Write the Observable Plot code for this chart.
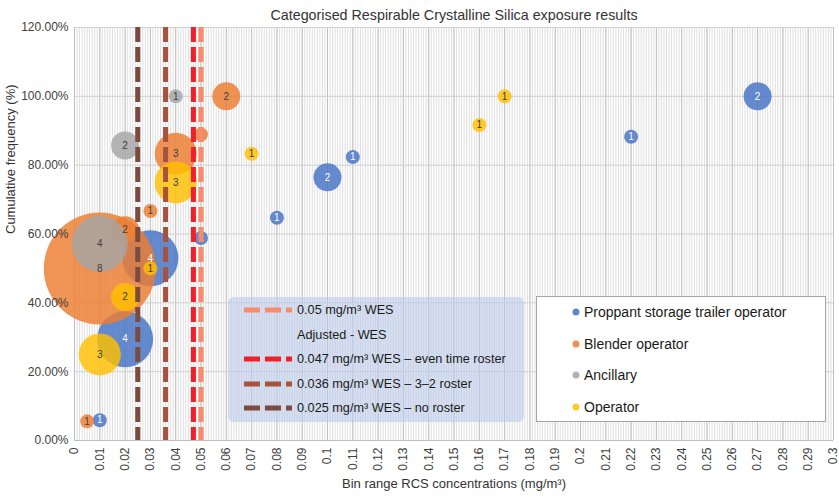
<!DOCTYPE html>
<html>
<head>
<meta charset="utf-8">
<script src="https://cdn.jsdelivr.net/npm/d3@7"></script>
<script src="https://cdn.jsdelivr.net/npm/@observablehq/plot@0.6"></script>
<style>
  html, body { margin: 0; padding: 0; background: #fff; }
  #chart { position: relative; width: 839px; height: 497px; font-family: "Liberation Sans", Arial, sans-serif; }
  .lg { position: absolute; box-sizing: border-box; }
  .row { position: absolute; color: #1a1a1a; white-space: nowrap; line-height: 14px; }
</style>
</head>
<body>
<div id="chart"></div>
<script>
// ---- Data ----
const title = "Categorised Respirable Crystalline Silica exposure results";
const xLabel = "Bin range RCS concentrations (mg/m³)";
const yLabel = "Cumulative frequency (%)";

const categories = ["Proppant storage trailer operator", "Blender operator", "Ancillary", "Operator"];
const colors = ["#4472C4", "#ED7D31", "#A5A5A5", "#FFC000"];
const labelColors = ["#ffffff", "#404040", "#404040", "#404040"];

const proppantX = [0.01, 0.02, 0.03, 0.05, 0.08, 0.10, 0.11, 0.22, 0.27];
const proppantY = [5.88, 29.41, 52.94, 58.82, 64.71, 76.47, 82.35, 88.24, 100];
const proppantN = [1, 4, 4, 1, 1, 2, 1, 1, 2];

const blenderX = [0.005, 0.01, 0.02, 0.03, 0.04, 0.05, 0.06];
const blenderY = [5.56, 50.0, 61.11, 66.67, 83.33, 88.89, 100];
const blenderN = [1, 8, 2, 1, 3, 1, 2];

const ancillaryX = [0.01, 0.02, 0.04];
const ancillaryY = [57.14, 85.71, 100];
const ancillaryN = [4, 2, 1];

const operatorX = [0.01, 0.02, 0.03, 0.04, 0.07, 0.16, 0.17];
const operatorY = [25.0, 41.67, 50.0, 75.0, 83.33, 91.67, 100];
const operatorN = [3, 2, 1, 3, 1, 1, 1];

const wesValues = [0.05, 0.047, 0.036, 0.025];
const wesLabels = ["0.05 mg/m³ WES", "0.047 mg/m³ WES – even time roster", "0.036 mg/m³ WES – 3–2 roster", "0.025 mg/m³ WES – no roster"];
const wesColors = ["#F98A6C", "#F0202A", "#A5533D", "#7B4B3F"];
const wesHeading = "Adjusted - WES";

const xTicks = [0, 0.01, 0.02, 0.03, 0.04, 0.05, 0.06, 0.07, 0.08, 0.09, 0.1, 0.11, 0.12, 0.13, 0.14, 0.15,
  0.16, 0.17, 0.18, 0.19, 0.2, 0.21, 0.22, 0.23, 0.24, 0.25, 0.26, 0.27, 0.28, 0.29, 0.3];
const yTicks = [0, 20, 40, 60, 80, 100, 120];

// ---- Build tables ----
const seriesX = [proppantX, blenderX, ancillaryX, operatorX];
const seriesY = [proppantY, blenderY, ancillaryY, operatorY];
const seriesN = [proppantN, blenderN, ancillaryN, operatorN];
const series = categories.map((c, i) => seriesX[i].map((x, j) => ({cat: c, x, y: seriesY[i][j], n: seriesN[i][j]})));
const wes = wesValues.map((v, i) => ({v, color: wesColors[i]}));
const minorTicks = d3.range(0, 301).map(i => i / 1000);

const dash = "15,5";

const marks = [
  Plot.ruleX(minorTicks, {stroke: "#dfdfdf", strokeWidth: 1}),
  Plot.ruleX(xTicks, {stroke: "#c0c0c0", strokeWidth: 1}),
  Plot.ruleY(yTicks, {stroke: "#d0d0d0", strokeWidth: 1}),
  Plot.ruleX([0], {stroke: "#bfbfbf"}),
  Plot.ruleY([0], {stroke: "#bfbfbf"}),
];
series.forEach((s, i) => {
  marks.push(Plot.dot(s, {x: "x", y: "y", r: "n", fill: colors[i], fillOpacity: 0.82, stroke: "none", sort: null}));
});
series.forEach((s, i) => {
  marks.push(Plot.text(s, {x: "x", y: "y", text: "n", fill: labelColors[i], fontSize: 10}));
});
wes.forEach(w => {
  marks.push(Plot.ruleX([w.v], {stroke: w.color, strokeWidth: 5, strokeDasharray: dash}));
});
marks.push(
  Plot.axisX({ticks: xTicks, tickFormat: d => String(d), tickRotate: -90, tickSize: 0, tickPadding: 7, fontSize: 12, label: null}),
  Plot.axisY({ticks: yTicks, tickFormat: d => d.toFixed(2) + "%", tickSize: 0, tickPadding: 6, fontSize: 12, label: null}),
  Plot.text([title], {frameAnchor: "top", dy: -18, fontSize: 14.3, fill: "#333"}),
  Plot.text([xLabel], {frameAnchor: "bottom", dy: 47, fontSize: 13, fill: "#333"}),
  Plot.text([yLabel], {frameAnchor: "left", rotate: -90, dx: -64, fontSize: 13, fill: "#333"})
);

const chart = Plot.plot({
  width: 839,
  height: 497,
  marginLeft: 74,
  marginRight: 6,
  marginTop: 27,
  marginBottom: 57,
  style: {fontFamily: '"Liberation Sans", Arial, sans-serif', fontSize: "12px", color: "#404040", background: "#fff", overflow: "visible"},
  x: {domain: [0, 0.3]},
  y: {domain: [0, 120]},
  r: {type: "linear", domain: [0, 8], range: [0, 56]},
  marks
});
const root = document.getElementById("chart");
root.appendChild(chart);

// ---- WES legend ----
const lg1 = document.createElement("div");
lg1.className = "lg";
Object.assign(lg1.style, {left: "228px", top: "297px", width: "296px", height: "125px", borderRadius: "6px", background: "rgba(187,203,233,0.6)"});
const rows1 = [
  {label: wesLabels[0], color: wesColors[0]},
  {label: wesHeading, color: null},
  {label: wesLabels[1], color: wesColors[1]},
  {label: wesLabels[2], color: wesColors[2]},
  {label: wesLabels[3], color: wesColors[3]}
];
rows1.forEach((r, i) => {
  const cy = 13 + i * 24.5;
  if (r.color) {
    const svg = d3.create("svg").attr("width", 48).attr("height", 8)
      .style("position", "absolute").style("left", "16px").style("top", (cy - 4) + "px");
    svg.append("line").attr("x1", 0).attr("x2", 48).attr("y1", 4).attr("y2", 4)
      .attr("stroke", r.color).attr("stroke-width", 5).attr("stroke-dasharray", "16,5");
    lg1.appendChild(svg.node());
  }
  const t = document.createElement("div");
  t.className = "row";
  t.style.fontSize = "12.7px";
  t.style.left = "69px";
  t.style.top = (cy - 7) + "px";
  t.textContent = r.label;
  lg1.appendChild(t);
});
root.appendChild(lg1);

// ---- Category legend ----
const lg2 = document.createElement("div");
lg2.className = "lg";
Object.assign(lg2.style, {left: "536px", top: "296px", width: "290px", height: "126px", border: "1px solid #a6a6a6", background: "#fff"});
categories.forEach((c, i) => {
  const cy = 15 + i * 31.5;
  const svg = d3.create("svg").attr("width", 8).attr("height", 8)
    .style("position", "absolute").style("left", "35px").style("top", (cy - 4) + "px");
  svg.append("circle").attr("cx", 4).attr("cy", 4).attr("r", 3.5).attr("fill", colors[i]).attr("fill-opacity", 0.85);
  lg2.appendChild(svg.node());
  const t = document.createElement("div");
  t.className = "row";
  t.style.fontSize = "14px";
  t.style.left = "47px";
  t.style.top = (cy - 7) + "px";
  t.textContent = c;
  lg2.appendChild(t);
});
root.appendChild(lg2);
</script>
</body>
</html>
